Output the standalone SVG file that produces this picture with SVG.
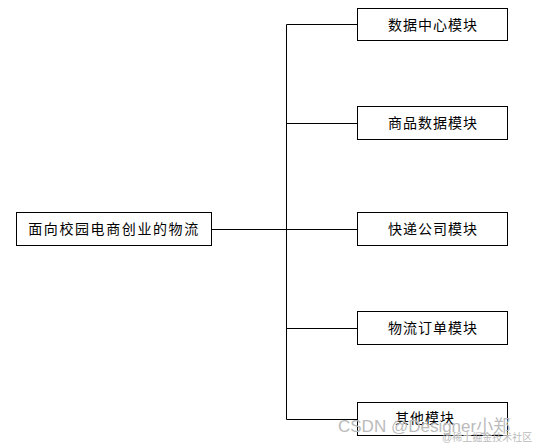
<svg xmlns="http://www.w3.org/2000/svg" width="547" height="446" viewBox="0 0 547 446">
<style>
.box{fill:#fff;stroke:#000;stroke-width:1}
.lbl{font-family:"Noto Sans CJK SC","Liberation Sans",sans-serif;font-size:14px;fill:#000;text-anchor:middle;dominant-baseline:central;letter-spacing:1px}
.conn{stroke:#000;stroke-width:1;fill:none}
.wm{font-family:"Liberation Sans","Noto Sans CJK SC",sans-serif;fill:#bbb}
</style>
<rect width="547" height="446" fill="#fff"/>
<g id="connectors">
<path class="conn" d="M211.5 229.5H286.5M286.5 24.5V419.5M286.5 24.5H357.5M286.5 123.5H357.5M286.5 229.5H357.5M286.5 328.5H357.5M286.5 419.5H357.5"/>
</g>
<g id="root">
<rect class="box" x="16.5" y="212.5" width="195" height="33"/>
<text class="lbl" x="114" y="228" style="letter-spacing:1.6px">面向校园电商创业的物流</text>
</g>
<g id="n1">
<rect class="box" x="357.5" y="8.5" width="150" height="32"/>
<text class="lbl" x="433" y="23.5">数据中心模块</text>
</g>
<g id="n2">
<rect class="box" x="357.5" y="106.5" width="150" height="33"/>
<text class="lbl" x="433" y="122">商品数据模块</text>
</g>
<g id="n3">
<rect class="box" x="357.5" y="212.5" width="150" height="33"/>
<text class="lbl" x="433" y="228">快递公司模块</text>
</g>
<g id="n4">
<rect class="box" x="357.5" y="311.5" width="150" height="33"/>
<text class="lbl" x="433" y="327">物流订单模块</text>
</g>
<g id="n5">
<rect class="box" x="357.5" y="402.5" width="150" height="33"/>
<text class="lbl" x="425" y="417">其他模块</text>
</g>
<text class="wm" x="338" y="432" font-size="17">CSDN @Designer小郑</text>
<text class="wm" x="442" y="441" font-size="10">@稀土掘金技术社区</text>
</svg>
